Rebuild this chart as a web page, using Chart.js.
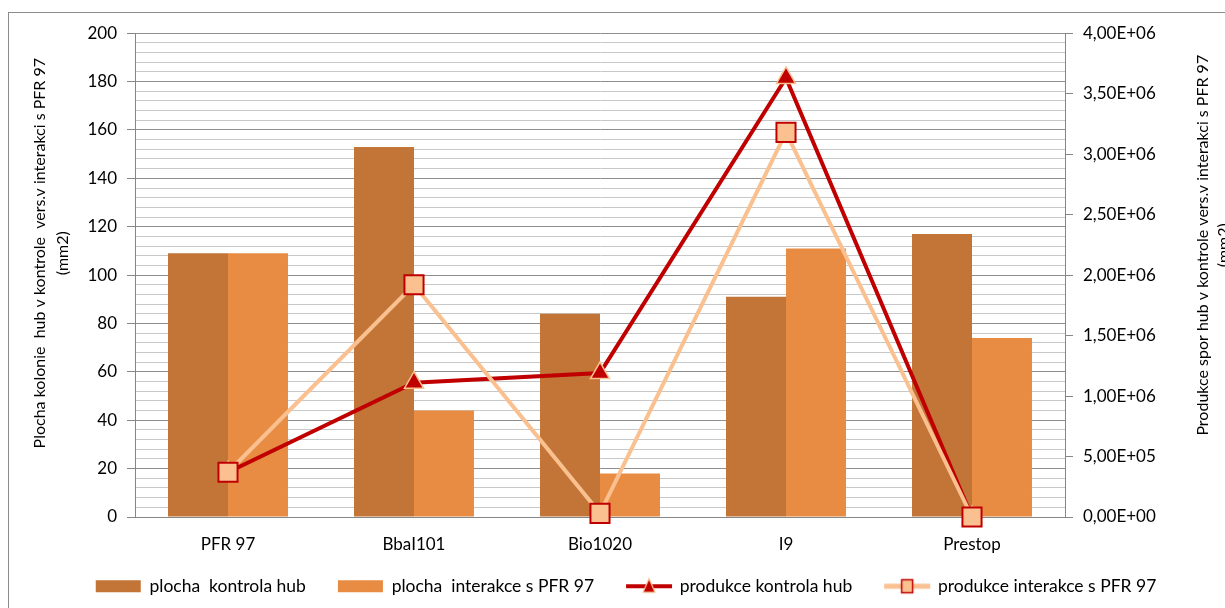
<!DOCTYPE html>
<html>
<head>
<meta charset="utf-8">
<script src="https://cdn.jsdelivr.net/npm/chart.js@4"></script>
<style>
html, body { margin: 0; padding: 0; background: #fff; overflow: hidden; }
#box { position: absolute; left: 8px; top: 12px; width: 1238px; height: 618px; border: 1px solid #8c8c8c; }
canvas { display: block; }
</style>
</head>
<body>
<div id="box"><canvas id="myChart" width="1238" height="618"></canvas></div>
<script>
// data
const categories = ['PFR 97', 'BbaI101', 'Bio1020', 'I9', 'Prestop']
const plochaKontrola = [109, 153, 84, 91, 117]
const plochaInterakce = [109, 44, 18, 111, 74]
const produkceKontrola = [370000, 1110000, 1190000, 3630000, 0]
const produkceInterakce = [370000, 1920000, 30000, 3180000, 0]
const seriesNames = ['plocha  kontrola hub', 'plocha  interakce s PFR 97', 'produkce kontrola hub', 'produkce interakce s PFR 97']
const leftTitle = ['Plocha kolonie  hub v kontrole  vers.v interakci s PFR 97', '(mm2)']
const rightTitle = ['Produkce spor hub v kontrole vers.v interakci s PFR 97', '(mm2)']

const colKontrola = '#C27536'
const colInterakce = '#E88C44'
const colRed = '#C00000'
const colLight = '#FAC090'
const axisGray = '#868686'

Chart.defaults.font.family = 'Lato'
Chart.defaults.font.size = 17
Chart.defaults.color = '#000'

function sci(v) {
    if (v == 0) return '0,00E+00'
    let e = Math.floor(Math.log10(v))
    let m = v / Math.pow(10, e)
    if (m >= 9.995) { m = m / 10; e++ }
    return m.toFixed(2).replace('.', ',') + 'E+' + String(e).padStart(2, '0')
}

// legend swatches: 73 wide, drawn centred on a 63 px box, visible part on the right
const swW = 73
const swOff = 23
function swatch(kind) {
    const c = document.createElement('canvas')
    c.width = swW
    c.height = 18
    const g = c.getContext('2d')
    const x0 = swOff
    if (kind == 0 || kind == 1) {
        g.fillStyle = kind == 0 ? colKontrola : colInterakce
        g.fillRect(x0, 3, 45, 12)
    } else if (kind == 2) {
        g.fillStyle = colRed
        g.fillRect(x0, 7, 46, 4)
        g.beginPath()
        g.moveTo(x0 + 23, 1.5)
        g.lineTo(x0 + 29, 15)
        g.lineTo(x0 + 17, 15)
        g.closePath()
        g.fill()
        g.strokeStyle = colLight
        g.lineWidth = 1.2
        g.stroke()
    } else {
        g.fillStyle = colLight
        g.fillRect(x0, 6.5, 46, 5)
        g.fillRect(x0 + 17.5, 2.5, 11, 13)
        g.strokeStyle = colRed
        g.lineWidth = 1.5
        g.strokeRect(x0 + 17.5, 2.5, 11, 13)
    }
    return c
}
const swatches = [0, 1, 2, 3].map(swatch)

const axisTitles = {
    id: 'axisTitles',
    afterDraw(chart) {
        const ctx = chart.ctx
        const a = chart.chartArea
        ctx.save()
        ctx.font = '16px Lato'
        ctx.fillStyle = '#000'
        ctx.textAlign = 'center'
        ctx.textBaseline = 'middle'
        const draw = (lines, x0, gap, cy) => {
            lines.forEach((t, i) => {
                ctx.save()
                ctx.translate(x0 + i * gap, cy)
                ctx.rotate(-Math.PI / 2)
                ctx.fillText(t, 0, 0)
                ctx.restore()
            })
        }
        draw(leftTitle, a.left - 95, 23, a.top + 220)
        draw(rightTitle, a.right + 138, 21, a.top + 212)
        ctx.restore()
    }
}

const ctx = document.getElementById('myChart')
const myChart = new Chart(ctx, {
    type: 'bar',
    data: {
        labels: categories,
        datasets: [
            {
                label: seriesNames[0],
                data: plochaKontrola,
                backgroundColor: colKontrola,
                yAxisID: 'y',
                categoryPercentage: 0.645,
                barPercentage: 1.0,
                order: 3
            },
            {
                label: seriesNames[1],
                data: plochaInterakce,
                backgroundColor: colInterakce,
                yAxisID: 'y',
                categoryPercentage: 0.645,
                barPercentage: 1.0,
                order: 4
            },
            {
                type: 'line',
                label: seriesNames[2],
                data: produkceKontrola,
                yAxisID: 'y2',
                borderColor: colRed,
                borderWidth: 4,
                pointStyle: 'triangle',
                pointRadius: 11,
                pointHoverRadius: 11,
                pointBackgroundColor: colRed,
                pointBorderColor: colLight,
                pointBorderWidth: 1.5,
                tension: 0,
                clip: false,
                order: 2
            },
            {
                type: 'line',
                label: seriesNames[3],
                data: produkceInterakce,
                yAxisID: 'y2',
                borderColor: colLight,
                borderWidth: 4,
                pointStyle: 'rect',
                pointRadius: 13.5,
                pointHoverRadius: 13.5,
                pointBackgroundColor: colLight,
                pointBorderColor: colRed,
                pointBorderWidth: 2,
                tension: 0,
                clip: false,
                order: 1
            }
        ]
    },
    options: {
        responsive: false,
        animation: false,
        layout: { padding: { top: 20, bottom: 26, left: 0, right: 22 } },
        plugins: {
            tooltip: { enabled: false },
            legend: {
                position: 'bottom',
                labels: {
                    usePointStyle: true,
                    pointStyleWidth: 63,
                    boxHeight: 12,
                    padding: 14,
                    color: '#000',
                    font: { size: 17.5 },
                    generateLabels: chart => chart.data.datasets.map((ds, i) => ({
                        text: ds.label,
                        pointStyle: swatches[i],
                        datasetIndex: i,
                        hidden: false,
                        fontColor: '#000',
                        lineWidth: 0,
                        strokeStyle: 'rgba(0,0,0,0)',
                        fillStyle: 'rgba(0,0,0,0)'
                    }))
                }
            }
        },
        scales: {
            x: {
                grid: { drawOnChartArea: false, drawTicks: false },
                border: { color: axisGray },
                ticks: { padding: 17, color: '#000' },
                afterFit: s => { s.height = 46.5 }
            },
            y: {
                position: 'left',
                min: 0,
                max: 200,
                ticks: {
                    stepSize: 4,
                    autoSkip: false,
                    padding: 10,
                    color: '#000',
                    callback: v => (v % 20 == 0 ? v : '')
                },
                grid: {
                    color: c => (c.tick && c.tick.value % 20 == 0 ? '#8e8e8e' : '#c8c8c8'),
                    tickColor: c => (c.tick && c.tick.value % 20 == 0 ? axisGray : 'rgba(0,0,0,0)'),
                    tickLength: 8
                },
                border: { color: axisGray },
                afterFit: s => { s.width = 126 }
            },
            y2: {
                position: 'right',
                min: 0,
                max: 4000000,
                ticks: {
                    stepSize: 500000,
                    padding: 10,
                    color: '#000',
                    callback: v => sci(v)
                },
                grid: { drawOnChartArea: false, tickLength: 8, tickColor: axisGray },
                border: { color: axisGray },
                afterFit: s => { s.width = 160 }
            }
        }
    },
    plugins: [axisTitles]
})
</script>
</body>
</html>
